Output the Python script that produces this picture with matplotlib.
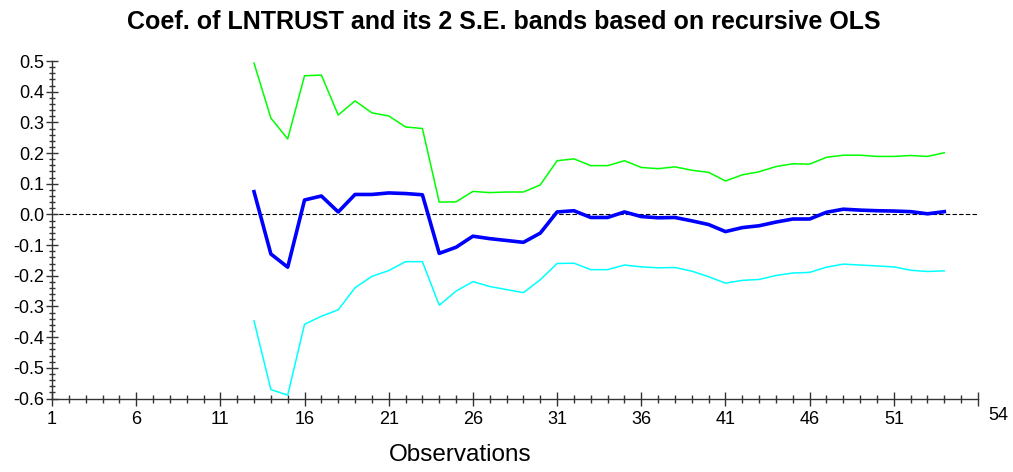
import matplotlib
matplotlib.use("Agg")
import matplotlib.pyplot as plt
from matplotlib.ticker import MultipleLocator, FixedLocator

plt.rcParams['font.family'] = ['Liberation Sans', 'DejaVu Sans']

obs = list(range(13, 55))

coef = [0.074, -0.129, -0.172, 0.047, 0.060, 0.008, 0.065, 0.065, 0.070, 0.068,
        0.064, -0.127, -0.107, -0.071, -0.079, -0.085, -0.091, -0.061, 0.008, 0.012,
        -0.010, -0.010, 0.008, -0.007, -0.011, -0.010, -0.021, -0.033, -0.056, -0.043,
        -0.037, -0.025, -0.015, -0.015, 0.007, 0.017, 0.014, 0.012, 0.011, 0.009,
        0.002, 0.009]

upper = [0.493, 0.314, 0.246, 0.452, 0.454, 0.324, 0.370, 0.331, 0.321, 0.285,
         0.280, 0.040, 0.041, 0.075, 0.071, 0.073, 0.073, 0.096, 0.175, 0.181,
         0.159, 0.159, 0.175, 0.153, 0.149, 0.155, 0.144, 0.137, 0.109, 0.129,
         0.139, 0.156, 0.165, 0.164, 0.186, 0.193, 0.193, 0.189, 0.189, 0.192,
         0.189, 0.201]

lower = [-0.347, -0.571, -0.589, -0.358, -0.332, -0.311, -0.239, -0.202, -0.183, -0.154,
         -0.154, -0.296, -0.250, -0.219, -0.235, -0.245, -0.255, -0.213, -0.160, -0.159,
         -0.180, -0.180, -0.165, -0.171, -0.174, -0.173, -0.185, -0.203, -0.224, -0.215,
         -0.212, -0.199, -0.191, -0.189, -0.172, -0.162, -0.165, -0.168, -0.171, -0.182,
         -0.186, -0.184]

xticks = [1, 6, 11, 16, 21, 26, 31, 36, 41, 46, 51]
last_label = "54"

fig = plt.figure(figsize=(10.13, 4.72), dpi=100)
ax = fig.add_axes([52/1013, 1-398.5/472, (978-52)/1013, (398.5-61)/472])

ax.axhline(0.0, color='black', lw=0.8, ls=(0, (4, 2)), zorder=1)
ax.plot(obs, upper, color='#00ff00', lw=1.1, zorder=2)
ax.plot(obs, lower, color='#00ffff', lw=1.1, zorder=2)
ax.plot(obs, coef, color='#0000ff', lw=2.6, zorder=3)

ax.set_xlim(1, 56)
ax.set_ylim(-0.6, 0.5)

for s in ['top', 'right']:
    ax.spines[s].set_visible(False)
for s in ['left', 'bottom']:
    ax.spines[s].set_color('#333333')
    ax.spines[s].set_linewidth(1.0)

ax.xaxis.set_major_locator(FixedLocator(xticks + [56]))
ax.set_xticklabels([str(t) for t in xticks] + [""])
ax.xaxis.set_minor_locator(MultipleLocator(1))
yt = [round(-0.6 + 0.1*i, 1) for i in range(12)]
ax.set_yticks(yt)
ax.set_yticklabels([f"{v:.1f}" for v in yt])
ax.yaxis.set_minor_locator(MultipleLocator(0.02))

ax.tick_params(axis='x', which='major', direction='inout', length=10, width=1.0,
               color='#333333', labelsize=13, pad=4)
ax.tick_params(axis='x', which='minor', direction='inout', length=6, width=1.0,
               color='#333333')
ax.tick_params(axis='y', which='major', direction='inout', length=9, width=1.0,
               color='#333333', labelsize=13, pad=1)
ax.tick_params(axis='y', which='minor', direction='inout', length=5, width=1.0,
               color='#333333')

ax.annotate(last_label, xy=(56, -0.6), xytext=(20, -17), textcoords='offset pixels',
            ha='center', va='center', fontsize=13, annotation_clip=False)

fig.text(503.5/1013, 1-22/472, "Coef. of LNTRUST and its 2 S.E. bands based on recursive OLS",
         ha='center', va='center', fontsize=18, fontweight='bold')
fig.text(460/1013, 1-455/472, "Observations", ha='center', va='center', fontsize=17.5)

fig.savefig("out.png", dpi=100)
